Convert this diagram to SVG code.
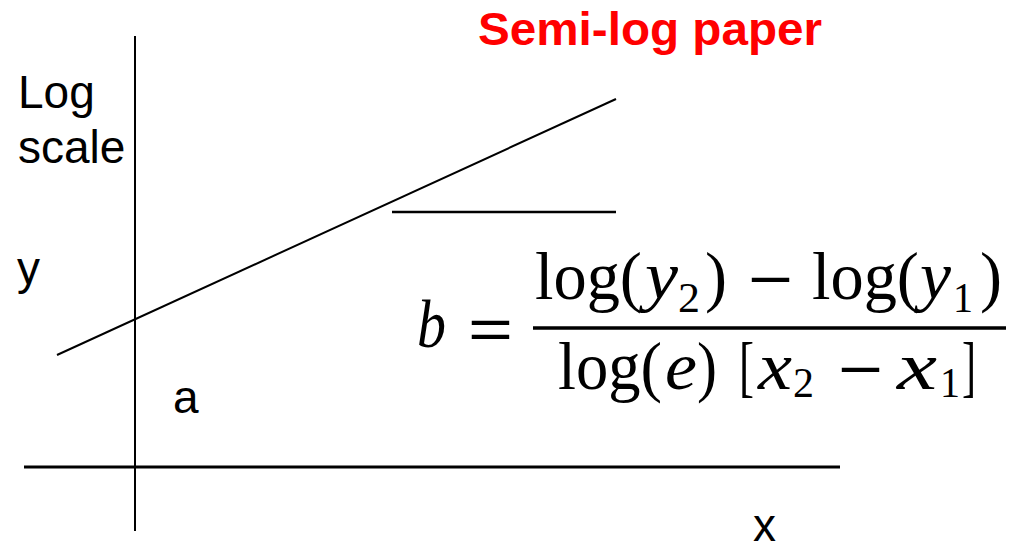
<svg xmlns="http://www.w3.org/2000/svg" width="1011" height="543" viewBox="0 0 1011 543">
<style>
.lbl{font-family:"Liberation Sans",Arial,sans-serif;font-size:46px;fill:#000}
.title{font-family:"Liberation Sans",Arial,sans-serif;font-size:46px;font-weight:bold;fill:#ff0000}
.m{font-family:"Liberation Serif","Times New Roman",serif;font-size:67px;fill:#000}
.mi{font-family:"Liberation Serif","Times New Roman",serif;font-size:67px;font-style:italic;fill:#000}
.ms{font-family:"Liberation Serif","Times New Roman",serif;font-size:43px;fill:#000}
.op{font-family:"Liberation Sans",Arial,sans-serif;font-size:58px;fill:#000}
.ln{stroke:#000;fill:none}
</style>
<rect width="1011" height="543" fill="#fff"/>
<g id="connectors">
<line class="ln" x1="135" y1="36" x2="135" y2="531" stroke-width="2"/>
<line class="ln" x1="24" y1="467" x2="840" y2="467" stroke-width="3"/>
<line class="ln" x1="57" y1="355" x2="616" y2="99" stroke-width="2"/>
<line class="ln" x1="392" y1="212" x2="616" y2="212" stroke-width="2.5"/>
</g>
<g id="title"><text class="title" x="478" y="45" textLength="344" lengthAdjust="spacingAndGlyphs">Semi-log paper</text></g>
<g id="labels">
<text class="lbl" x="18" y="108">Log</text>
<text class="lbl" x="18" y="163">scale</text>
<text class="lbl" x="17" y="284">y</text>
<text class="lbl" x="173" y="413">a</text>
<text class="lbl" x="753" y="541">x</text>
</g>
<g id="formula">
<text class="mi" x="417" y="347" textLength="29" lengthAdjust="spacingAndGlyphs">b</text>
<text class="op" x="468" y="349" textLength="45" lengthAdjust="spacingAndGlyphs">=</text>
<line x1="533" y1="328" x2="1006" y2="328" stroke="#000" stroke-width="3.5"/>
<text class="m" x="535" y="299" textLength="107" lengthAdjust="spacingAndGlyphs">log(</text>
<text class="mi" x="645" y="299" textLength="33" lengthAdjust="spacingAndGlyphs">y</text>
<text class="ms" x="678" y="312" textLength="22" lengthAdjust="spacingAndGlyphs">2</text>
<text class="m" x="705" y="299" textLength="22" lengthAdjust="spacingAndGlyphs">)</text>
<text class="op" x="748" y="299" textLength="45" lengthAdjust="spacingAndGlyphs">−</text>
<text class="m" x="812" y="299" textLength="107" lengthAdjust="spacingAndGlyphs">log(</text>
<text class="mi" x="920" y="299" textLength="31" lengthAdjust="spacingAndGlyphs">y</text>
<text class="ms" x="953" y="312" textLength="20" lengthAdjust="spacingAndGlyphs">1</text>
<text class="m" x="980" y="299" textLength="22" lengthAdjust="spacingAndGlyphs">)</text>
<text class="m" x="558" y="389" textLength="104" lengthAdjust="spacingAndGlyphs">log(</text>
<text class="mi" x="665" y="389" textLength="32" lengthAdjust="spacingAndGlyphs">e</text>
<text class="m" x="697" y="389" textLength="20" lengthAdjust="spacingAndGlyphs">)</text>
<text class="m" x="739" y="389" textLength="15" lengthAdjust="spacingAndGlyphs">[</text>
<text class="mi" x="758" y="389" textLength="34" lengthAdjust="spacingAndGlyphs">x</text>
<text class="ms" x="793" y="397" textLength="21" lengthAdjust="spacingAndGlyphs">2</text>
<text class="op" x="838" y="389" textLength="45" lengthAdjust="spacingAndGlyphs">−</text>
<text class="mi" x="897" y="389" textLength="40" lengthAdjust="spacingAndGlyphs">x</text>
<text class="ms" x="940" y="397" textLength="20" lengthAdjust="spacingAndGlyphs">1</text>
<text class="m" x="962" y="389" textLength="14" lengthAdjust="spacingAndGlyphs">]</text>
</g>
</svg>
